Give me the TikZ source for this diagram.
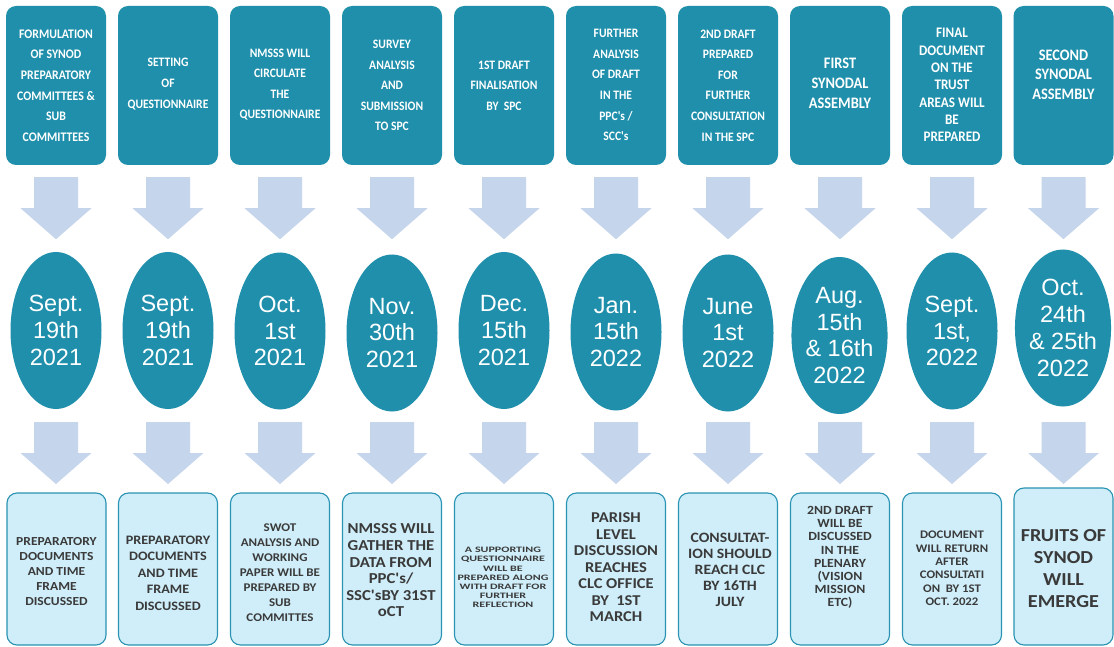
\documentclass[tikz,border=0pt]{standalone}
\usepackage{fontspec}
\setmainfont{Carlito}
\newfontfamily\arialf{Liberation Sans}
\newfontfamily\btmf[FakeStretch=1.1]{Carlito}
\newfontfamily\topf[FakeStretch=0.9]{Carlito}
\usetikzlibrary{shapes.geometric}
\definecolor{teal1}{HTML}{1F8FAB}
\definecolor{arrowc}{HTML}{C5D5EC}
\definecolor{lightbox}{HTML}{CFEEF9}
\definecolor{lightedge}{HTML}{2A93B2}
\definecolor{btxt}{HTML}{3A3A3A}
\tikzset{
  topbox/.style={rectangle, rounded corners=10pt, fill=teal1, minimum width=100pt, minimum height=159pt, inner sep=0pt},
  toptext/.style 2 args={text=white, align=center, inner sep=0pt, font=\topf\fontsize{#1}{#2}\selectfont\bfseries},
  dateov/.style={ellipse, fill=teal1, minimum width=91pt, minimum height=157pt, inner sep=0pt, text=white, align=center, font=\arialf\fontsize{23.5}{26.8}\selectfont},
  botbox/.style={rectangle, rounded corners=10pt, fill=lightbox, draw=lightedge, line width=1.1pt, minimum width=99pt, inner sep=0pt},
  bottext/.style 2 args={text=btxt, align=center, inner sep=0pt, font=\btmf\fontsize{#1}{#2}\selectfont\bfseries},
  darrow/.pic={\fill[arrowc] (-22,0) -- (22,0) -- (22,31) -- (35.5,31) -- (0,62) -- (-35.5,31) -- (-22,31) -- cycle;}
}
\begin{document}
\begin{tikzpicture}[x=1pt,y=-1pt]
\useasboundingbox (0,0) rectangle (1114,647);
\fill[white] (0,0) rectangle (1114,647);
% top boxes
\foreach \i/\cx in {1/56,2/168,3/280,4/392,5/504,6/616,7/728,8/840,9/952,10/1063.5}{
  \node[topbox] (top\i) at (\cx,85.5) {};
}
\node[toptext={13.1}{20.6}] (tt1) at (56,85.5) {FORMULATION\\OF SYNOD\\PREPARATORY\\COMMITTEES \&\\SUB\\COMMITTEES};
\node[toptext={12.9}{20.6}] (tt2) at (168,84) {SETTING\\OF\\QUESTIONNAIRE};
\node[toptext={12.9}{20.6}] (tt3) at (280,84.5) {NMSSS WILL\\CIRCULATE\\THE\\QUESTIONNAIRE};
\node[toptext={12.9}{20.6}] (tt4) at (392,85.5) {SURVEY\\ANALYSIS\\AND\\SUBMISSION\\TO SPC};
\node[toptext={12.9}{20.6}] (tt5) at (504,85.5) {1ST DRAFT\\FINALISATION\\BY~ SPC};
\node[toptext={12.9}{20.6}] (tt6) at (616,85) {FURTHER\\ANALYSIS\\OF DRAFT\\IN THE\\PPC's /\\SCC's};
\node[toptext={12.9}{20.6}] (tt7) at (728,85.5) {2ND DRAFT\\PREPARED\\FOR\\FURTHER\\CONSULTATION\\IN THE SPC};
\node[toptext={16}{20}] (tt8) at (840,83) {FIRST\\SYNODAL\\ASSEMBLY};
\node[toptext={14.6}{17.3}] (tt9) at (952,85) {FINAL\\DOCUMENT\\ON THE\\TRUST\\AREAS WILL\\BE\\PREPARED};
\node[toptext={16}{19.5}] (tt10) at (1063.5,74.5) {SECOND\\SYNODAL\\ASSEMBLY};
% date ellipses
\node[dateov] (date1) at (56,330.5) {Sept.\\19th\\2021};
\node[dateov] (date2) at (168,330.5) {Sept.\\19th\\2021};
\node[dateov] (date3) at (280,331) {Oct.\\1st\\2021};
\node[dateov] (date4) at (392,333) {Nov.\\30th\\2021};
\node[dateov] (date5) at (504,330.5) {Dec.\\15th\\2021};
\node[dateov] (date6) at (616,332) {Jan.\\15th\\2022};
\node[dateov] (date7) at (728,333) {June\\1st\\2022};
\node[dateov] (date8) at (839.5,335.5) {Aug.\\15th\\\& 16th\\2022};
\node[dateov] (date9) at (952,331) {Sept.\\1st,\\2022};
\node[dateov] (date10) at (1063,328) {Oct.\\24th\\\& 25th\\2022};
% bottom boxes
\foreach \i/\cx in {1/56.5,2/168,3/280,4/392,5/504,6/616,7/728,8/840,9/952}{
  \node[botbox, minimum height=152pt] (bot\i) at (\cx,569) {};
}
\node[botbox, minimum height=157pt] (bot10) at (1063.5,566.5) {};
\node[bottext={12.3}{15}] (bt1) at (56.5,572) {PREPARATORY\\DOCUMENTS\\AND TIME\\FRAME\\DISCUSSED};
\node[bottext={12.9}{16.5}] (bt2) at (168,573) {PREPARATORY\\DOCUMENTS\\AND TIME\\FRAME\\DISCUSSED};
\node[bottext={11.8}{15}] (bt3) at (280,573) {SWOT\\ANALYSIS AND\\WORKING\\PAPER WILL BE\\PREPARED BY\\SUB\\COMMITTES};
\node[bottext={15.2}{16.6}] (bt4) at (391,570.5) {NMSSS WILL\\GATHER THE\\DATA FROM\\PPC's/\\SSC'sBY 31ST\\oCT};
\node[bottext={8.3}{9.2}] (bt5) at (503,578.5) {\scalebox{1.32}[1]{\begin{tabular}{@{}c@{}}A SUPPORTING\\QUESTIONNAIRE\\WILL BE\\PREPARED ALONG\\WITH DRAFT FOR\\FURTHER\\REFLECTION\end{tabular}}};
\node[bottext={15}{16.5}] (bt6) at (616,567.5) {PARISH\\LEVEL\\DISCUSSION\\REACHES\\CLC OFFICE\\BY~ 1ST\\MARCH};
\node[bottext={14.3}{16}] (bt7) at (730,570) {CONSULTAT-\\ION SHOULD\\REACH CLC\\BY 16TH\\JULY};
\node[bottext={12.5}{13.2}] (bt8) at (840,557.5) {2ND DRAFT\\WILL BE\\DISCUSSED\\IN THE\\PLENARY\\(VISION\\MISSION\\ETC)};
\node[bottext={11.6}{13.4}] (bt9) at (952,568.5) {DOCUMENT\\WILL RETURN\\AFTER\\CONSULTATI\\ON~ BY 1ST\\OCT. 2022};
\node[bottext={18.3}{22.2}] (bt10) at (1063.5,568.5) {FRUITS OF\\SYNOD\\WILL\\EMERGE};
% block arrows
\coordinate (lowrow) at (0,422);
\foreach \i in {1,...,10}{
  \pic at ([yshift=-12pt]top\i.south) {darrow};
  \pic at (top\i.south |- lowrow) {darrow};
}
\end{tikzpicture}
\end{document}
